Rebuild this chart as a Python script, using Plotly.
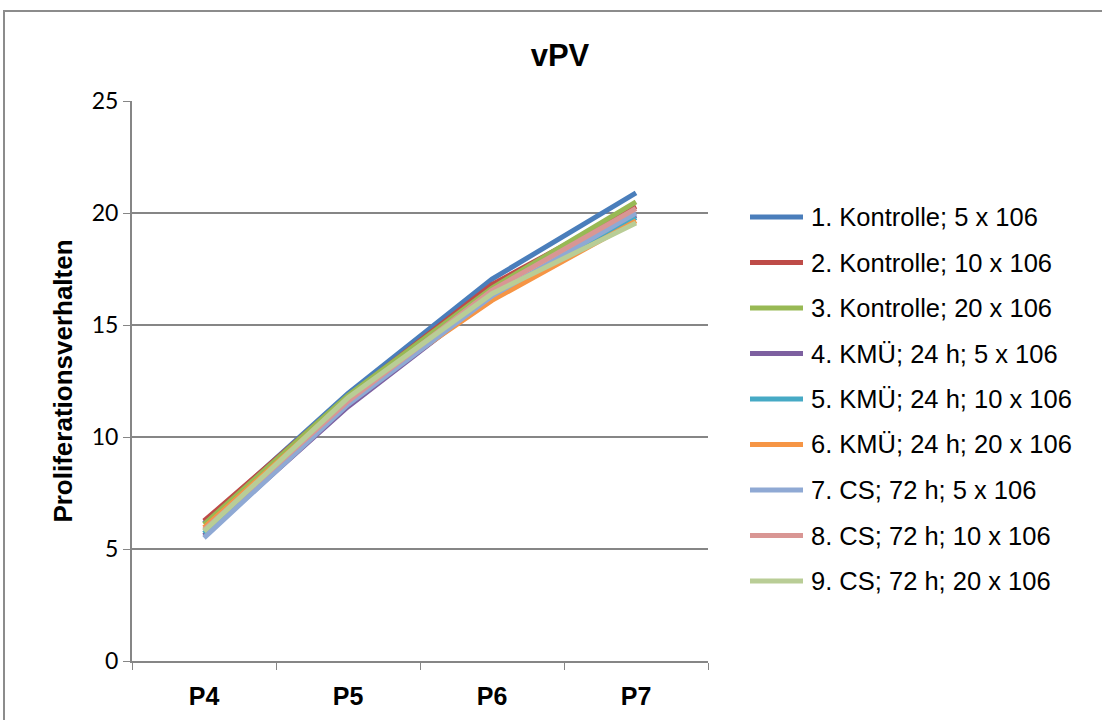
import plotly.graph_objects as go

# Passage labels on the x axis
passages = ["P4", "P5", "P6", "P7"]

# Series names (legend order)
series_names = [
    "1. Kontrolle; 5 x 106",
    "2. Kontrolle; 10 x 106",
    "3. Kontrolle; 20 x 106",
    "4. KMÜ; 24 h; 5 x 106",
    "5. KMÜ; 24 h; 10 x 106",
    "6. KMÜ; 24 h; 20 x 106",
    "7. CS; 72 h; 5 x 106",
    "8. CS; 72 h; 10 x 106",
    "9. CS; 72 h; 20 x 106",
]

# Proliferation values per series at P4..P7
kontrolle_5 = [6.15, 11.95, 17.05, 20.9]
kontrolle_10 = [6.25, 11.8, 16.8, 20.3]
kontrolle_20 = [6.1, 11.85, 16.65, 20.5]
kmue_5 = [5.6, 11.35, 16.3, 19.9]
kmue_10 = [5.7, 11.5, 16.3, 19.8]
kmue_20 = [5.95, 11.7, 16.1, 19.65]
cs_5 = [5.5, 11.45, 16.3, 20.0]
cs_10 = [5.85, 11.6, 16.55, 20.2]
cs_20 = [5.8, 11.75, 16.4, 19.55]

series_values = [kontrolle_5, kontrolle_10, kontrolle_20,
                 kmue_5, kmue_10, kmue_20,
                 cs_5, cs_10, cs_20]

colors = ["#4A7EBB", "#BE4B48", "#98B954", "#7D60A0", "#46AAC5",
          "#F69545", "#8FA9D4", "#D99694", "#B9CD96"]

y_ticks = [0, 5, 10, 15, 20, 25]

W, H = 1102, 720
L, R, T, B = 132, 708, 101, 661

fig = go.Figure()
for name, vals, col in zip(series_names, series_values, colors):
    fig.add_trace(go.Scatter(
        x=passages, y=vals, name=name, mode="lines",
        line=dict(color=col, width=5),
        showlegend=False,
    ))


def px_x(px):
    return (px - L) / (R - L)


def px_y(py):
    return (B - py) / (B - T)


shapes = [
    # chart frame
    dict(type="rect", xref="paper", yref="paper",
         x0=px_x(4), x1=px_x(1110), y0=px_y(730), y1=px_y(11),
         line=dict(color="#8C8C8C", width=2), layer="below"),
]
annotations = []

# legend drawn as line samples with labels
leg_y0, leg_step = 217, 45.5
for i, (name, col) in enumerate(zip(series_names, colors)):
    yy = px_y(leg_y0 + i * leg_step)
    shapes.append(dict(type="line", xref="paper", yref="paper",
                       x0=px_x(750), x1=px_x(803), y0=yy, y1=yy,
                       line=dict(color=col, width=5)))
    annotations.append(dict(xref="paper", yref="paper", x=px_x(809), y=yy,
                            text=name, showarrow=False, xanchor="left",
                            yanchor="middle",
                            font=dict(family="Liberation Sans, Arial", size=25.5,
                                      color="#000000")))

fig.update_layout(
    width=W, height=H,
    margin=dict(l=L, r=W - R, t=T, b=H - B),
    paper_bgcolor="white", plot_bgcolor="white",
    title=dict(text="<b>vPV</b>", x=(560 / W), xanchor="center",
               y=1 - 55 / H, yanchor="middle",
               font=dict(family="Liberation Sans, Arial", size=31, color="#000")),
    shapes=shapes,
    annotations=annotations,
    xaxis=dict(
        type="category", tickson="boundaries", ticks="outside", ticklen=7,
        tickcolor="#868686", showline=True, linecolor="#868686", linewidth=2,
        showgrid=False, range=[-0.5, 3.5], ticklabelstandoff=12,
        automargin=False,
        tickfont=dict(family="Liberation Sans, Arial", size=25, color="#000"),
        tickprefix="<b>", ticksuffix="</b>",
    ),
    yaxis=dict(
        range=[0, 25], tickvals=y_ticks, ticks="outside", ticklen=7,
        tickcolor="#868686", showline=True, linecolor="#868686", linewidth=2,
        showgrid=True, gridcolor="#868686", gridwidth=1.5,
        zeroline=False, ticklabelstandoff=0, automargin=False,
        tickfont=dict(family="Lato, Open Sans", size=23, color="#000"),
        title=dict(text="<b>Proliferationsverhalten</b>", standoff=12,
                   font=dict(family="Liberation Sans, Arial", size=26,
                             color="#000")),
    ),
)

fig.write_html("out.html")
